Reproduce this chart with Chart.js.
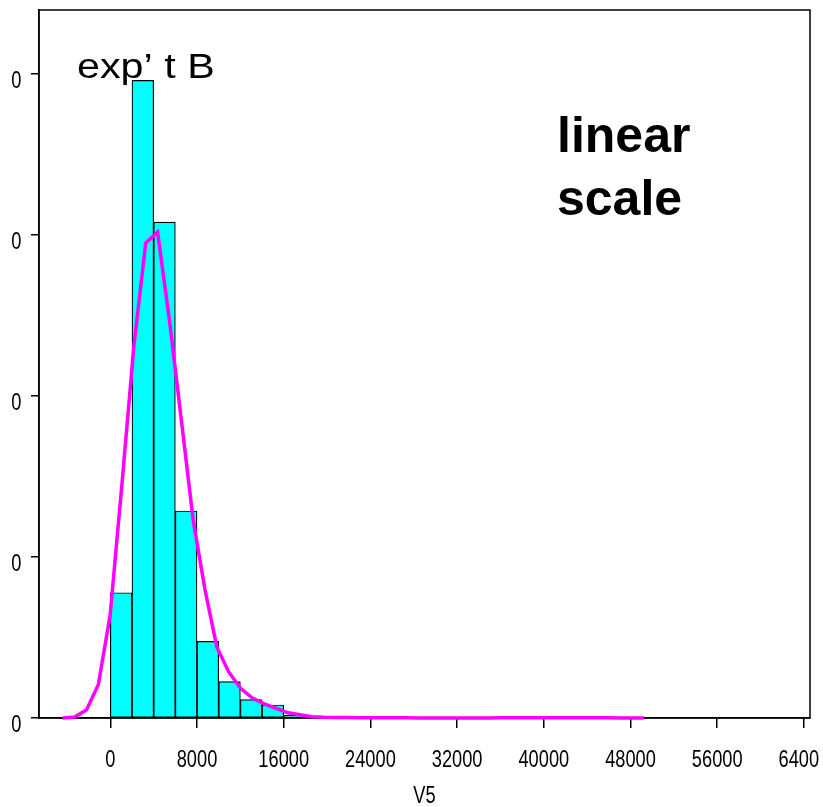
<!DOCTYPE html>
<html><head><meta charset="utf-8">
<script src="https://cdn.jsdelivr.net/npm/chart.js@4.4.1/dist/chart.umd.min.js"></script>
<style>html,body{margin:0;padding:0;background:#fff;} #wrap{width:820px;height:807px;}</style>
</head><body><div id="wrap"><canvas id="c" width="820" height="807"></canvas></div>
<script>
// ---- data ----
const binWidth = 2000;
const binStarts = [0,2000,4000,6000,8000,10000,12000,14000,16000,18000,20000,22000,24000,26000,28000,30000,32000,34000,36000,38000,40000,42000];
const binDensity = [3.89e-5,1.98e-4,1.54e-4,6.43e-5,2.38e-5,1.13e-5,5.7e-6,4.05e-6,8.5e-7,3e-7,2e-7,0,0,0,0,0,0,0,0,0,0,2e-7];
const curveX = [-4390,-3296,-2202,-1108,-14,1080,2174,3268,4362,5456,6550,7644,8738,9832,10926,12020,13114,14208,15302,16396,17490,18584,19678,20772,21866,22960,24054,25148,26242,27336,28430,29524,30618,31712,32806,33900,34994,36088,37182,38276,39370,40464,41558,42652,43746,44840,45934,47028,48122,49216];
const curveY = [0,3e-7,2.5e-6,1.03e-5,3.2e-5,7.29e-5,1.155e-4,1.475e-4,1.509e-4,1.235e-4,9.27e-5,6.15e-5,3.98e-5,2.2e-5,1.43e-5,9.2e-6,6.2e-6,4.4e-6,3.0e-6,1.6e-6,1.0e-6,4e-7,2e-7,1.5e-7,1.2e-7,1e-7,8e-8,6e-8,5e-8,4e-8,3e-8,3e-8,2e-8,2e-8,2e-8,2e-8,3e-8,4e-8,5e-8,6e-8,7e-8,8e-8,8e-8,7e-8,6e-8,5e-8,4e-8,3e-8,2e-8,1e-8];
const xTickValues = [0,8000,16000,24000,32000,40000,48000,56000,64000];
const xTickLabels = ['0','8000','16000','24000','32000','40000','48000','56000','64000'];
const yTickValues = [0,0.00005,0.0001,0.00015,0.0002];
const yTickLabels = ['0','0','0','0','0'];
const xTitle = 'V5';
const noteTitle = 'exp\u2019 t B';
const noteScale = ['linear','scale'];

const axisFont = "24px 'Liberation Sans', Arial, sans-serif";
const narrow = 0.76;

const barData = binStarts.map((s,i)=>({x: s + binWidth/2, y: binDensity[i]}));
const lineData = curveX.map((x,i)=>({x, y: curveY[i]}));

function narrowText(ctx, text, x, y, align){
  ctx.save();
  ctx.translate(x, y);
  ctx.scale(narrow, 1);
  ctx.textAlign = align;
  ctx.fillText(text, 0, 0);
  ctx.restore();
}

const framePlugin = {
  id: 'frame',
  beforeDatasetsDraw(chart){
    const {ctx, chartArea:a} = chart;
    ctx.save();
    ctx.strokeStyle = '#000'; ctx.lineWidth = 1.5;
    ctx.strokeRect(a.left, a.top, a.right - a.left, a.bottom - a.top);
    ctx.restore();
  },
  afterDraw(chart){
    const ctx = chart.ctx;
    const xs = chart.scales.x, ys = chart.scales.y, a = chart.chartArea;
    ctx.save();
    ctx.fillStyle = '#000';
    ctx.textBaseline = 'alphabetic';
    // axis tick labels
    ctx.font = axisFont;
    xTickValues.forEach((v,i)=>narrowText(ctx, xTickLabels[i], xs.getPixelForValue(v), a.bottom + 49, 'center'));
    yTickValues.forEach((v,i)=>narrowText(ctx, yTickLabels[i], a.left - 17.5, ys.getPixelForValue(v) + 13.5, 'right'));
    narrowText(ctx, xTitle, (a.left + a.right) / 2, a.bottom + 85, 'center');
    // annotations
    ctx.save();
    ctx.translate(77, 78);
    ctx.scale(1.18, 1);
    ctx.textAlign = 'left';
    ctx.font = "35px 'Liberation Sans', Arial, sans-serif";
    ctx.fillText(noteTitle, 0, 0);
    ctx.restore();
    ctx.textAlign = 'left';
    ctx.font = "bold 50px 'Liberation Sans', Arial, sans-serif";
    ctx.fillText(noteScale[0], 557, 152);
    ctx.fillText(noteScale[1], 557, 215);
    ctx.restore();
  }
};

new Chart(document.getElementById('c'), {
  type: 'bar',
  data: {
    datasets: [
      { type: 'line', data: lineData, borderColor: '#FF00FF', borderWidth: 3.5, pointRadius: 0, tension: 0, fill: false, order: 1, clip: 4 },
      { type: 'bar', data: barData, backgroundColor: '#00FFFF', borderColor: '#000', borderWidth: 1.2, borderSkipped: false, barPercentage: 1, categoryPercentage: 1, order: 2 }
    ]
  },
  options: {
    responsive: false,
    animation: false,
    layout: { padding: { top: 10, right: 10, left: 0, bottom: 0 } },
    plugins: { legend: { display: false }, tooltip: { enabled: false } },
    scales: {
      x: {
        type: 'linear', min: -6580, max: 64560, offset: false,
        afterBuildTicks(s){ s.ticks = xTickValues.map(v=>({value:v})); },
        afterFit(s){ s.height = 89; s.paddingLeft = 0; s.paddingRight = 0; },
        ticks: { display: false, autoSkip: false, maxRotation: 0 },
        grid: { offset: false, drawOnChartArea: false, drawTicks: true, tickLength: 10, color: '#000', lineWidth: 1.5 },
        border: { display: true, color: '#000', width: 1.5 }
      },
      y: {
        type: 'linear', min: 0, max: 0.00021988,
        afterBuildTicks(s){ s.ticks = yTickValues.map(v=>({value:v})); },
        afterFit(s){ s.width = 39; s.paddingTop = 0; s.paddingBottom = 0; },
        ticks: { display: false },
        grid: { drawOnChartArea: false, drawTicks: true, tickLength: 8, color: '#000', lineWidth: 1.5 },
        border: { display: true, color: '#000', width: 1.5 }
      }
    }
  },
  plugins: [framePlugin]
});
</script>
</body></html>
